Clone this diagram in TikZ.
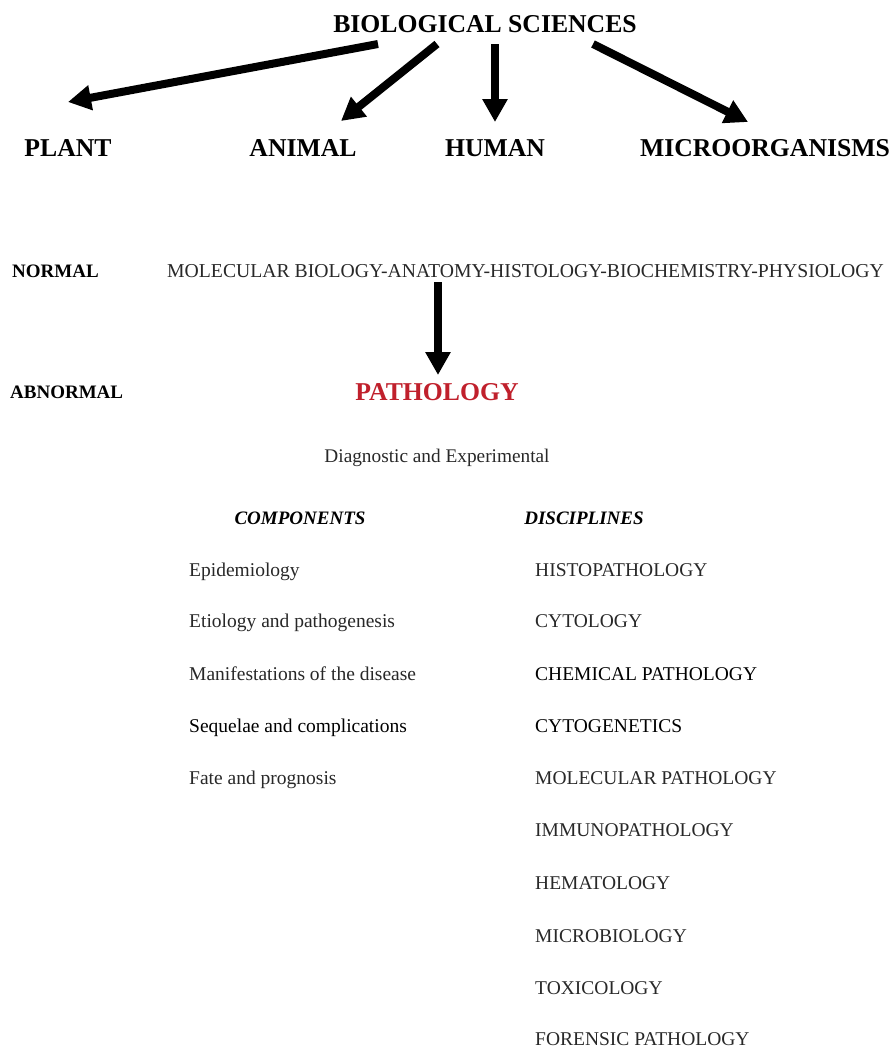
\documentclass[tikz,border=0pt]{standalone}
\usepackage{fontspec}
\setmainfont{Liberation Serif}
\usetikzlibrary{arrows.meta}
\definecolor{pathred}{RGB}{192,32,44}
\definecolor{txtgray}{RGB}{40,40,40}
\tikzset{
  head/.style={font=\fontsize{25.7}{28}\selectfont\bfseries, inner sep=0pt, anchor=base},
  side/.style={font=\fontsize{19}{22}\selectfont\bfseries, inner sep=0pt, anchor=base west},
  body/.style={font=\fontsize{19.5}{22}\selectfont, inner sep=0pt, text=txtgray},
  item/.style={body, anchor=base west},
  darkitem/.style={item, text=black},
  colhead/.style={font=\fontsize{19}{22}\selectfont\bfseries\itshape, inner sep=0pt, anchor=base},
  arr/.style={line width=8pt, -{Triangle[length=23pt,width=24pt]}}
}
\begin{document}
\begin{tikzpicture}[x=1pt,y=-1pt]
\useasboundingbox (0,0) rectangle (893,1050);
% top
\node[head] (bio) at (485,32) {BIOLOGICAL SCIENCES};
\node[head] (plant) at (68,156) {PLANT};
\node[head] (animal) at (303,156) {ANIMAL};
\node[head] (human) at (495,156) {HUMAN};
\node[head] (micro) at (765,156) {MICROORGANISMS};
\coordinate (s1) at (378,44); \coordinate (t1) at (68,102);
\coordinate (s2) at (437,44); \coordinate (t2) at (341,121);
\coordinate (s3) at (495,44); \coordinate (t3) at (495,122);
\coordinate (s4) at (593,44); \coordinate (t4) at (748,122);
\draw[arr] (s1) -- (t1);
\draw[arr] (s2) -- (t2);
\draw[arr] (s3) -- (t3);
\draw[arr] (s4) -- (t4);
% normal / abnormal
\node[side] (normal) at (12,277) {NORMAL};
\node[item, font=\fontsize{19.7}{22}\selectfont] (fields) at (167,277) {MOLECULAR BIOLOGY-ANATOMY-HISTOLOGY-BIOCHEMISTRY-PHYSIOLOGY};
\node[side] (abnormal) at (10,398) {ABNORMAL};
\node[head, text=pathred] (patho) at (437,400) {PATHOLOGY};
\coordinate (s5) at (438,282); \coordinate (t5) at (438,375);
\draw[arr] (s5) -- (t5);
\node[body, anchor=base, font=\fontsize{19.3}{22}\selectfont] (diag) at (437,462) {Diagnostic and Experimental};
% columns
\node[colhead] (comp) at (300,524) {COMPONENTS};
\node[colhead] (disc) at (584,524) {DISCIPLINES};
\node[item] (c1) at (189,576) {Epidemiology};
\node[item] (c2) at (189,627) {Etiology and pathogenesis};
\node[item] (c3) at (189,680) {Manifestations of the disease};
\node[darkitem] (c4) at (189,732) {Sequelae and complications};
\node[item] (c5) at (189,784) {Fate and prognosis};
\node[item] (d1) at (535,576) {HISTOPATHOLOGY};
\node[item] (d2) at (535,627) {CYTOLOGY};
\node[darkitem] (d3) at (535,680) {CHEMICAL PATHOLOGY};
\node[darkitem] (d4) at (535,732) {CYTOGENETICS};
\node[item] (d5) at (535,784) {MOLECULAR PATHOLOGY};
\node[item] (d6) at (535,836) {IMMUNOPATHOLOGY};
\node[item] (d7) at (535,889) {HEMATOLOGY};
\node[item] (d8) at (535,942) {MICROBIOLOGY};
\node[item] (d9) at (535,994) {TOXICOLOGY};
\node[item] (d10) at (535,1045) {FORENSIC PATHOLOGY};
\end{tikzpicture}
\end{document}
